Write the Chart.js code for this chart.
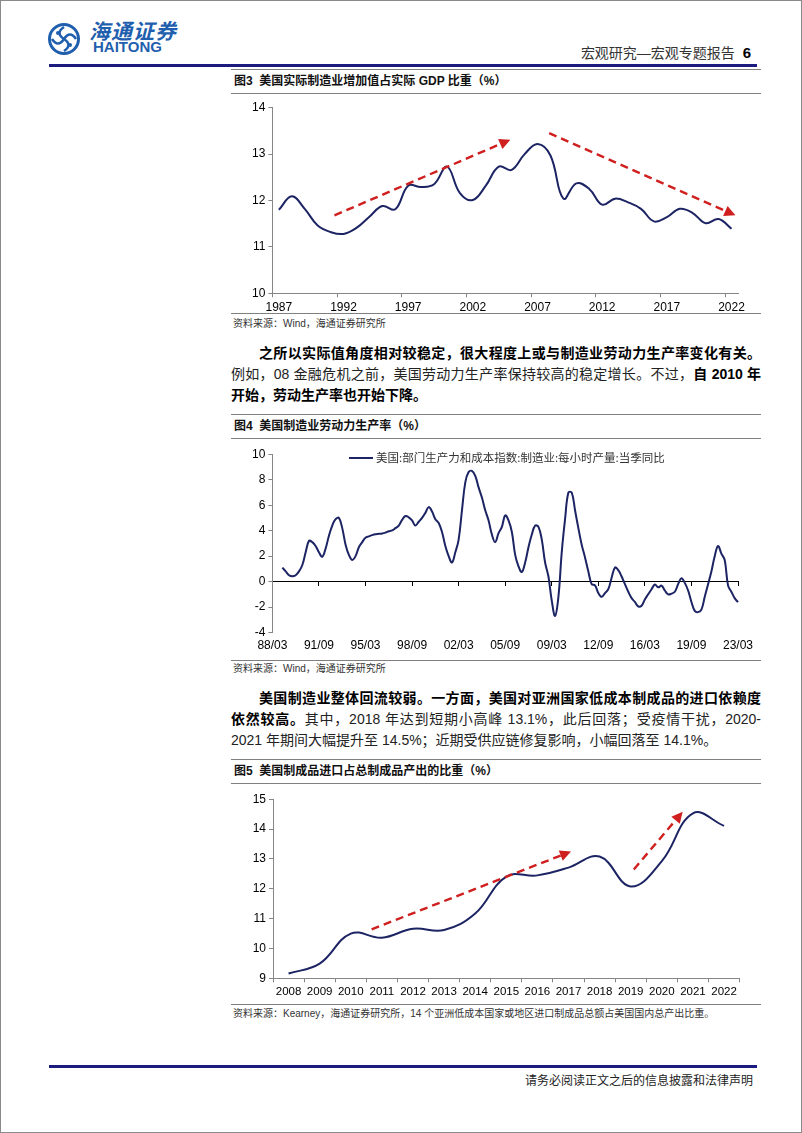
<!DOCTYPE html>
<html>
<head>
<meta charset="utf-8">
<script src="https://cdn.jsdelivr.net/npm/chart.js@4.4.1/dist/chart.umd.min.js"></script>
<style>
  html, body { margin: 0; padding: 0; background: #fff; }
  #page { position: relative; width: 802px; height: 1133px; box-sizing: border-box; border: 1px solid #8a8a8a; overflow: hidden;
          font-family: "Liberation Sans", "Noto Sans CJK SC", sans-serif; color: #111; }
  .abs { position: absolute; }
  .hline { position: absolute; left: 230px; width: 530px; height: 0; border-top: 1px solid #808080; }
  .blue { position: absolute; left: 48px; width: 708px; height: 3px; background: #1b1b80; }
  .ftitle { position: absolute; left: 233px; font-size: 12px; font-weight: 700; line-height: 14px; white-space: nowrap; }
  .src { position: absolute; left: 232px; font-size: 10px; line-height: 12px; color: #333; white-space: nowrap; }
  .pline { position: absolute; left: 230px; width: 530px; font-size: 14px; line-height: 20px; height: 20px; box-sizing: border-box;
           text-align: justify; text-align-last: justify; color: #222; }
  .pline.last { text-align-last: left; }
  .pline.ind { padding-left: 28px; }
  b { font-weight: 700; color: #000; }
  .chartbox { position: absolute; left: 230px; width: 530px; }
</style>
</head>
<body>
<div id="page">
  <!-- logo -->
  <svg class="abs" style="left:46px;top:21px" width="34" height="34" viewBox="0 0 34 34">
    <circle cx="17" cy="17" r="14.5" fill="none" stroke="#1f5fae" stroke-width="3"/>
    <path d="M17 5 C 11 9, 11 13, 17 17 C 23 21, 23 25, 17 29" fill="none" stroke="#1f5fae" stroke-width="2.6"/>
    <path d="M5 17 C 9 23, 13 23, 17 17 C 21 11, 25 11, 29 17" fill="none" stroke="#1f5fae" stroke-width="2.6"/>
    <circle cx="11" cy="11" r="2" fill="#1f5fae"/><circle cx="23" cy="23" r="2" fill="#1f5fae"/>
  </svg>
  <div class="abs" style="left:88px;top:20px;font-size:21px;line-height:22px;color:#1f5fae;font-weight:700;font-style:italic;letter-spacing:1px;white-space:nowrap">海通证券</div>
  <div class="abs" style="left:92px;top:38px;font-size:15px;line-height:16px;color:#1f5fae;font-weight:700;white-space:nowrap">HAITONG</div>
  <div class="abs" style="right:50px;top:44px;font-size:14px;line-height:16px;color:#333;white-space:nowrap">宏观研究—宏观专题报告&nbsp;&nbsp;<b style="font-size:15px">6</b></div>
  <div class="blue" style="top:63px"></div>

  <!-- Figure 3 -->
  <div class="hline" style="top:68px"></div>
  <div class="ftitle" style="top:73px">图3&nbsp;&nbsp;美国实际制造业增加值占实际 GDP 比重（%）</div>
  <div class="hline" style="top:92px"></div>
  <div class="chartbox" style="top:96px;height:214px"><canvas id="c3"></canvas></div>
  <div class="hline" style="top:312px"></div>
  <div class="src" style="top:317px">资料来源：Wind，海通证券研究所</div>

  <div class="pline ind" style="top:342px"><b>之所以实际值角度相对较稳定，很大程度上或与制造业劳动力生产率变化有关。</b></div>
  <div class="pline" style="top:363px">例如，08 金融危机之前，美国劳动力生产率保持较高的稳定增长。不过，<b>自 2010 年</b></div>
  <div class="pline last" style="top:384px"><b>开始，劳动生产率也开始下降。</b></div>

  <!-- Figure 4 -->
  <div class="hline" style="top:413px"></div>
  <div class="ftitle" style="top:418px">图4&nbsp;&nbsp;美国制造业劳动力生产率（%）</div>
  <div class="hline" style="top:437px"></div>
  <div class="chartbox" style="top:440px;height:216px"><canvas id="c4"></canvas></div>
  <div class="abs" style="left:348px;top:456px;width:24px;height:0;border-top:2px solid #1c2463"></div>
  <div class="abs" style="left:375px;top:449px;font-size:11.5px;line-height:14px;color:#333;white-space:nowrap;font-family:'Noto Sans CJK SC',sans-serif">美国:部门生产力和成本指数:制造业:每小时产量:当季同比</div>
  <div class="hline" style="top:659px"></div>
  <div class="src" style="top:662px">资料来源：Wind，海通证券研究所</div>

  <div class="pline ind" style="top:687px"><b>美国制造业整体回流较弱。一方面，美国对亚洲国家低成本制成品的进口依赖度</b></div>
  <div class="pline" style="top:708px"><b>依然较高。</b>其中，2018 年达到短期小高峰 13.1%，此后回落；受疫情干扰，2020-</div>
  <div class="pline last" style="top:729px">2021 年期间大幅提升至 14.5%；近期受供应链修复影响，小幅回落至 14.1%。</div>

  <!-- Figure 5 -->
  <div class="hline" style="top:758px"></div>
  <div class="ftitle" style="top:763px">图5&nbsp;&nbsp;美国制成品进口占总制成品产出的比重（%）</div>
  <div class="hline" style="top:782px"></div>
  <div class="chartbox" style="top:788px;height:212px"><canvas id="c5"></canvas></div>
  <div class="hline" style="top:1003px"></div>
  <div class="src" style="top:1007px">资料来源：Kearney，海通证券研究所，14 个亚洲低成本国家或地区进口制成品总额占美国国内总产出比重。</div>

  <div class="blue" style="top:1064px"></div>
  <div class="abs" style="right:48px;top:1073px;font-size:12px;line-height:14px;color:#222;white-space:nowrap">请务必阅读正文之后的信息披露和法律声明</div>
</div>

<script>
// ---------------- data ----------------
const fig3Years = ['1987','1988','1989','1990','1991','1992','1993','1994','1995','1996','1997','1998',
  '1999','2000','2001','2002','2003','2004','2005','2006','2007','2008','2009','2010','2011','2012',
  '2013','2014','2015','2016','2017','2018','2019','2020','2021','2022'];
const fig3Share = [11.80,12.09,11.82,11.46,11.32,11.28,11.41,11.65,11.88,11.81,12.32,12.29,
  12.35,12.73,12.16,12.01,12.32,12.73,12.66,13.00,13.22,12.97,12.04,12.37,12.25,11.91,
  12.04,11.96,11.82,11.55,11.64,11.82,11.73,11.51,11.60,11.39];
const fig3TickLabels = ['1987','1992','1997','2002','2007','2012','2017','2022'];
// dashed trend arrows: [fromIndex, fromValue, toIndex, toValue]
const fig3Arrows = [[4.3, 11.68, 17.9, 13.31], [20.9, 13.45, 35.3, 11.68]];

const fig4Years = [];           // quarter categories 88/03 .. 23/03
for (let y = 1988; y <= 2023; y++) {
  for (const m of ['03','06','09','12']) {
    if (y === 2023 && m !== '03') break;
    fig4Years.push(String(y).slice(2) + '/' + m);
  }
}
const fig4Productivity = [null,null,null,
  1.1,0.8,0.5,0.42,0.5,0.8,1.3,2.3,3.2,3.1,2.8,2.3,1.95,2.6,3.6,4.4,4.9,5.0,4.2,2.9,2.1,1.7,
  2.0,2.7,3.1,3.45,3.55,3.65,3.72,3.75,3.78,3.85,3.95,4.02,4.2,4.4,4.85,5.15,5.05,4.8,4.4,4.7,
  5.0,5.4,5.85,5.5,4.9,4.6,3.9,2.8,2.0,1.5,2.3,3.3,5.6,7.8,8.6,8.7,8.3,7.4,6.6,5.6,4.8,3.7,
  3.1,3.8,4.3,5.2,4.8,3.9,2.1,1.2,0.75,1.5,2.7,3.7,4.4,4.3,3.3,1.5,0.4,-1.5,-2.7,-1.2,2.3,4.9,
  7.0,7.0,5.6,4.2,2.9,1.9,0.8,-0.2,-0.3,-0.9,-1.2,-0.9,-0.6,0.3,1.1,0.9,0.4,-0.2,-0.8,-1.3,
  -1.6,-1.95,-1.9,-1.4,-1.0,-0.6,-0.23,-0.45,-0.32,-0.7,-1.0,-0.95,-0.8,-0.2,0.26,-0.1,-0.7,
  -1.6,-2.3,-2.4,-2.2,-1.2,-0.2,0.8,2.0,2.8,2.2,1.7,-0.3,-0.8,-1.3,-1.62];
const fig4TickLabels = ['88/03','91/09','95/03','98/09','02/03','05/09','09/03','12/09','16/03','19/09','23/03'];
const fig4LegendLabel = '美国:部门生产力和成本指数:制造业:每小时产量:当季同比';

const fig5Years = ['2008','2009','2010','2011','2012','2013','2014','2015','2016','2017','2018','2019','2020','2021','2022'];
const fig5Share = [9.16,9.49,10.50,10.36,10.66,10.62,11.17,12.41,12.45,12.71,13.08,12.08,12.93,14.53,14.11];
const fig5Arrows = [[2.67, 10.64, 9.08, 13.25], [11.1, 12.65, 12.67, 14.58]];

// ---------------- styling ----------------
const LINE = '#1c2463';
const AXIS = '#868686';
const RED = '#d01f1f';
const tickFont = { family: "'Liberation Sans', Arial, sans-serif", size: 12 };

const arrowPlugin = {
  id: 'trendArrows',
  afterDatasetsDraw(chart, args, opts) {
    const items = opts.items || [];
    const xs = chart.scales.x, ys = chart.scales.y, ctx = chart.ctx;
    ctx.save();
    for (const [a, b, c, d] of items) {
      const x0 = xs.getPixelForValue(a), y0 = ys.getPixelForValue(b);
      const x1 = xs.getPixelForValue(c), y1 = ys.getPixelForValue(d);
      const ang = Math.atan2(y1 - y0, x1 - x0);
      const hl = 11, hw = 5.5;
      const bx = x1 - hl * Math.cos(ang), by = y1 - hl * Math.sin(ang);
      ctx.strokeStyle = RED; ctx.lineWidth = 2.4; ctx.setLineDash([8, 5]);
      ctx.beginPath(); ctx.moveTo(x0, y0); ctx.lineTo(bx, by); ctx.stroke();
      ctx.setLineDash([]);
      ctx.fillStyle = RED;
      ctx.beginPath();
      ctx.moveTo(x1, y1);
      ctx.lineTo(bx + hw * Math.sin(ang), by - hw * Math.cos(ang));
      ctx.lineTo(bx - hw * Math.sin(ang), by + hw * Math.cos(ang));
      ctx.closePath(); ctx.fill();
    }
    ctx.restore();
  }
};

function yAxis(min, max, step, width) {
  return {
    min, max,
    ticks: { stepSize: step, color: '#000', font: tickFont, padding: 3 },
    grid: { drawOnChartArea: false, color: AXIS, tickLength: 4, tickColor: AXIS },
    border: { display: true, color: AXIS, width: 1 },
    afterFit: s => { s.width = width; }
  };
}

function baseOptions(pad) {
  return {
    responsive: true, maintainAspectRatio: false, animation: false,
    layout: { padding: pad },
    plugins: { legend: { display: false }, tooltip: { enabled: false } },
    elements: { point: { radius: 0 } }
  };
}

// ---------------- Figure 3 ----------------
new Chart(document.getElementById('c3'), {
  type: 'line',
  data: { labels: fig3Years, datasets: [{ data: fig3Share, borderColor: LINE, borderWidth: 2, tension: 0.4, fill: false }] },
  options: Object.assign(baseOptions({ left: 0, right: 23, top: 10.7, bottom: 0 }), {
    scales: {
      x: {
        offset: true,
        ticks: { autoSkip: false, maxRotation: 0, color: '#000', font: tickFont, padding: 3,
          callback: function (v) { const l = this.getLabelForValue(v); return fig3TickLabels.includes(l) ? l : ''; } },
        grid: { offset: true, drawOnChartArea: false, tickLength: 4,
          tickColor: ctx => (ctx.index % 5 === 0) ? AXIS : 'rgba(0,0,0,0)' },
        border: { display: true, color: AXIS, width: 1 },
        afterFit: s => { s.height = 17.7; }
      },
      y: yAxis(10, 14, 1, 41.4)
    },
    plugins: { legend: { display: false }, tooltip: { enabled: false }, trendArrows: { items: fig3Arrows } }
  }),
  plugins: [arrowPlugin]
});

// ---------------- Figure 4 ----------------
new Chart(document.getElementById('c4'), {
  type: 'line',
  data: { labels: fig4Years, datasets: [{ label: fig4LegendLabel, data: fig4Productivity, borderColor: LINE, borderWidth: 2, tension: 0.4, fill: false }] },
  options: Object.assign(baseOptions({ left: 0, right: 23, top: 13.3, bottom: 0 }), {
    scales: {
      x: {
        ticks: { autoSkip: false, maxRotation: 0, color: '#000', font: tickFont, padding: 6,
          callback: function (v) { const l = this.getLabelForValue(v); return fig4TickLabels.includes(l) ? l : ''; } },
        grid: { display: false, drawTicks: false },
        border: { display: false },
        afterFit: s => { s.height = 24.5; }
      },
      x2: {
        type: 'category', position: { y: 0 },
        ticks: { display: false, autoSkip: false },
        grid: { drawOnChartArea: false, tickLength: 4,
          tickColor: ctx => (ctx.tick && fig4TickLabels.includes(fig4Years[ctx.index]) && ctx.index > 0) ? '#000' : 'rgba(0,0,0,0)' },
        border: { display: true, color: '#000', width: 1 }
      },
      y: yAxis(-4, 10, 2, 41.4)
    }
  })
});

// ---------------- Figure 5 ----------------
new Chart(document.getElementById('c5'), {
  type: 'line',
  data: { labels: fig5Years, datasets: [{ data: fig5Share, borderColor: LINE, borderWidth: 2, tension: 0.4, fill: false }] },
  options: Object.assign(baseOptions({ left: 0, right: 21.4, top: 10.3, bottom: 0 }), {
    scales: {
      x: {
        offset: true,
        ticks: { autoSkip: false, maxRotation: 0, color: '#000', font: { family: tickFont.family, size: 11.5 }, padding: 3 },
        grid: { offset: true, drawOnChartArea: false, tickLength: 4, tickColor: AXIS },
        border: { display: true, color: AXIS, width: 1 },
        afterFit: s => { s.height = 22.7; }
      },
      y: yAxis(9, 15, 1, 42)
    },
    plugins: { legend: { display: false }, tooltip: { enabled: false }, trendArrows: { items: fig5Arrows } }
  }),
  plugins: [arrowPlugin]
});
</script>
</body>
</html>
